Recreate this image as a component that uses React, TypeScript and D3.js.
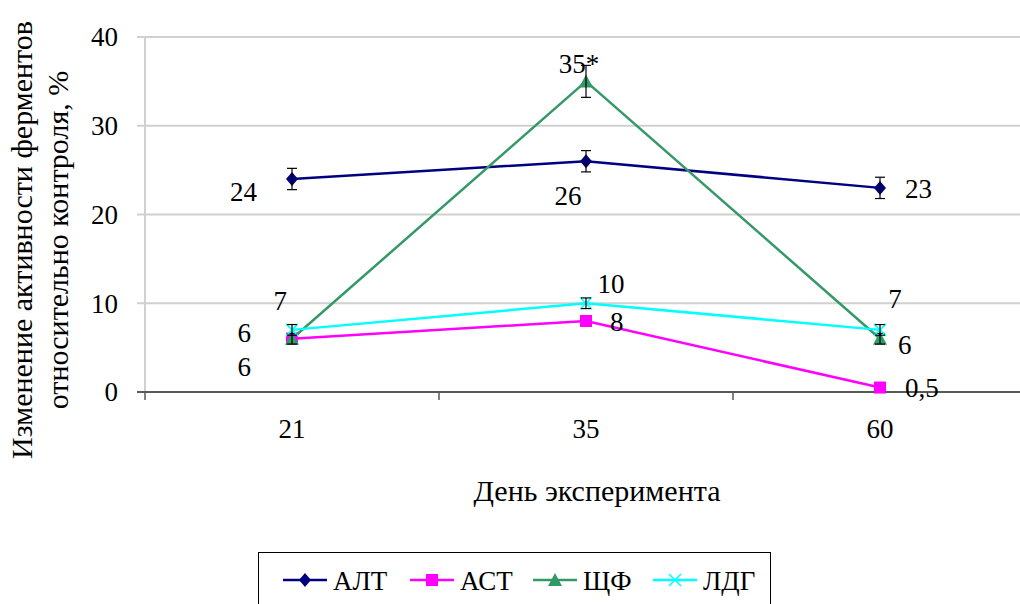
import * as d3 from "d3";

// data
const days = ["21", "35", "60"];
const altValues = [24, 26, 23];
const altErrors = [1.2, 1.2, 1.2];
const astValues = [6, 8, 0.5];
const astErrors = [0, 0, 0];
const alpValues = [6, 35, 6];
const alpErrors = [0.6, 1.8, 0.6];
const ldhValues = [7, 10, 7];
const ldhErrors = [0.6, 0.6, 0.6];
const yTicks = [0, 10, 20, 30, 40];

// label texts per point (as shown on the chart)
const altLabels = ["24", "26", "23"];
const astLabels = ["6", "8", "0,5"];
const alpLabels = ["6", "35*", "6"];
const ldhLabels = ["7", "10", "7"];

type Series = {
  name: string;
  color: string;
  marker: "diamond" | "square" | "triangle" | "x";
  values: number[];
  errors: number[];
  labels: string[];
  // label offsets from point: [dx, dy, anchor]
  offsets: [number, number, string][];
};

const series: Series[] = [
  {
    name: "АЛТ", color: "#000080", marker: "diamond",
    values: altValues, errors: altErrors, labels: altLabels,
    offsets: [[-35, 13, "end"], [-18, 34, "middle"], [25, 1, "start"]],
  },
  {
    name: "АСТ", color: "#ff00ff", marker: "square",
    values: astValues, errors: astErrors, labels: astLabels,
    offsets: [[-41, -6, "end"], [24, 1, "start"], [25, 0, "start"]],
  },
  {
    name: "ЩФ", color: "#339966", marker: "triangle",
    values: alpValues, errors: alpErrors, labels: alpLabels,
    offsets: [[-41, 28, "end"], [-7, -18, "middle"], [18, 6, "start"]],
  },
  {
    name: "ЛДГ", color: "#00ffff", marker: "x",
    values: ldhValues, errors: ldhErrors, labels: ldhLabels,
    offsets: [[-5, -29, "end"], [25, -20, "middle"], [15, -31, "middle"]],
  },
];

const FONT = "'Liberation Serif', Tinos, 'Times New Roman', 'DejaVu Serif'";

function Marker({ type, color, x, y }: { type: string; color: string; x: number; y: number }) {
  if (type === "diamond") {
    return <path d={`M${x},${y - 7}L${x + 6},${y}L${x},${y + 7}L${x - 6},${y}Z`} fill={color} />;
  }
  if (type === "square") {
    return <rect x={x - 6} y={y - 6} width={12} height={12} fill={color} />;
  }
  if (type === "triangle") {
    return <path d={`M${x},${y - 7}L${x + 7},${y + 6}L${x - 7},${y + 6}Z`} fill={color} />;
  }
  return (
    <path d={`M${x - 6},${y - 6}L${x + 6},${y + 6}M${x + 6},${y - 6}L${x - 6},${y + 6}`} stroke={color} strokeWidth={1.5} />
  );
}

export default function App() {
  const width = 1020;
  const height = 604;
  const left = 145;
  const right = 1027;
  const top = 37;
  const bottom = 392;
  const fs = 27;
  const titleFs = 30;

  const x = d3.scaleBand().domain(days).range([left, right]);
  const y = d3.scaleLinear().domain([0, 40]).range([bottom, top]);
  const cx = (d: string) => (x(d) ?? 0) + x.bandwidth() / 2;

  const line = d3
    .line<number>()
    .x((_, i) => cx(days[i]))
    .y((v) => y(v));

  const bandEdges = [...days.map((d) => x(d) ?? 0), right];

  const legendX = [283, 410, 533, 653];

  return (
    <svg width={width} height={height} style={{ position: "absolute", left: 0, top: 0, fontFamily: FONT }}>
      <rect width={width} height={height} fill="#fff" />

      {/* gridlines */}
      {yTicks.filter((t) => t > 0).map((t) => (
        <line key={t} x1={left} x2={width} y1={y(t)} y2={y(t)} stroke="#d0d0d0" strokeWidth={2} />
      ))}
      {/* y axis */}
      <line x1={left} x2={left} y1={top} y2={bottom} stroke="#d0d0d0" strokeWidth={2} />
      {yTicks.map((t) => (
        <g key={t}>
          <line x1={left - 8} x2={left} y1={y(t)} y2={y(t)} stroke="#d0d0d0" strokeWidth={2} />
          <text x={left - 27} y={y(t)} dy="0.35em" textAnchor="end" fontSize={fs}>{t}</text>
        </g>
      ))}
      {/* x axis */}
      <line x1={left - 8} x2={width} y1={bottom} y2={bottom} stroke="#595959" strokeWidth={2} />
      {bandEdges.map((e, i) => (
        <line key={i} x1={e} x2={e} y1={bottom} y2={bottom + 8} stroke="#595959" strokeWidth={1.5} />
      ))}
      {days.map((d) => (
        <text key={d} x={cx(d)} y={438} textAnchor="middle" fontSize={fs}>{d}</text>
      ))}

      {/* axis titles */}
      <text x={597} y={501} textAnchor="middle" fontSize={titleFs}>День эксперимента</text>
      <g transform="translate(32,240) rotate(-90)">
        <text x={0} y={0} textAnchor="middle" fontSize={titleFs}>Изменение активности ферментов</text>
        <text x={0} y={36} textAnchor="middle" fontSize={titleFs}>относительно контроля, %</text>
      </g>

      {/* series lines */}
      {series.map((s) => (
        <path key={s.name} d={line(s.values) ?? ""} fill="none" stroke={s.color} strokeWidth={2.5} />
      ))}

      {/* markers, error bars */}
      {series.map((s) =>
        s.values.map((v, i) => {
          const px = cx(days[i]);
          const py = y(v);
          const e = s.errors[i];
          return (
            <g key={s.name + i}>
              <Marker type={s.marker} color={s.color} x={px} y={py} />
              {e > 0 && (
                <g stroke="#000" strokeWidth={1.2}>
                  <line x1={px} x2={px} y1={y(v + e)} y2={y(v - e)} />
                  <line x1={px - 5} x2={px + 5} y1={y(v + e)} y2={y(v + e)} />
                  <line x1={px - 5} x2={px + 5} y1={y(v - e)} y2={y(v - e)} />
                </g>
              )}
            </g>
          );
        })
      )}

      {/* data labels */}
      {series.map((s) =>
        s.values.map((v, i) => {
          const [dx, dy, anchor] = s.offsets[i];
          return (
            <text
              key={s.name + "l" + i}
              x={cx(days[i]) + dx}
              y={y(v) + dy}
              dy="0.35em"
              textAnchor={anchor as any}
              fontSize={fs}
            >
              {s.labels[i]}
            </text>
          );
        })
      )}

      {/* legend */}
      <rect x={258.5} y={552.5} width={512} height={70} fill="#fff" stroke="#000" strokeWidth={1} />
      {series.map((s, i) => (
        <g key={s.name}>
          <line x1={legendX[i]} x2={legendX[i] + 44} y1={580} y2={580} stroke={s.color} strokeWidth={2.5} />
          <Marker type={s.marker} color={s.color} x={legendX[i] + 22} y={580} />
          <text x={legendX[i] + 50} y={581} dy="0.35em" fontSize={fs}>{s.name}</text>
        </g>
      ))}
    </svg>
  );
}
